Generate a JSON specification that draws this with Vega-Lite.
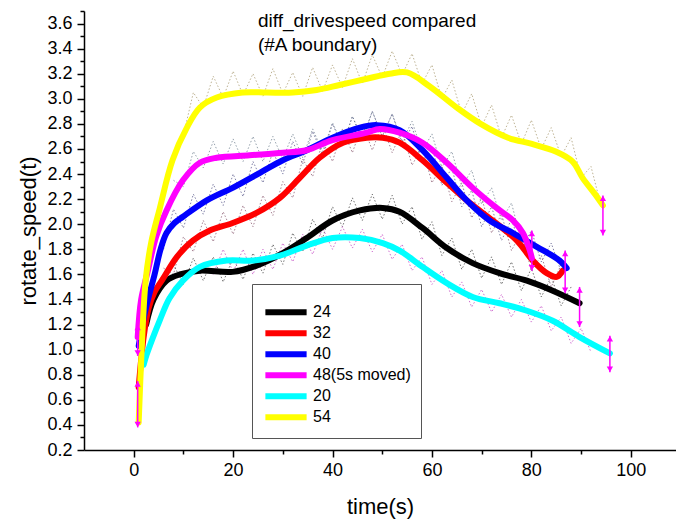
{
  "$schema": "https://vega.github.io/schema/vega-lite/v6.json",
  "width": 592,
  "height": 439,
  "autosize": {"type": "none"},
  "padding": {"left": 84, "top": 11, "right": 0, "bottom": 70},
  "background": "white",
  "config": {
    "font": "Liberation Sans",
    "view": {"stroke": null},
    "axis": {
      "grid": false,
      "domainColor": "#000000",
      "domainWidth": 1.5,
      "tickColor": "#000000",
      "tickWidth": 1.5,
      "labelColor": "#000000",
      "labelFont": "Liberation Sans",
      "labelFontSize": 18,
      "titleFont": "Liberation Sans",
      "titleFontSize": 22,
      "titleFontWeight": "normal",
      "titleColor": "#000000"
    }
  },
  "datasets": {
    "curves": [
      {"s": "24", "t": 2.5, "v": 1.2}, {"s": "24", "t": 4.0, "v": 1.4}, {"s": "24", "t": 6.6, "v": 1.55}, {"s": "24", "t": 9.3, "v": 1.6}, {"s": "24", "t": 13.3, "v": 1.63}, {"s": "24", "t": 19.9, "v": 1.62}, {"s": "24", "t": 24.7, "v": 1.67}, {"s": "24", "t": 30, "v": 1.77}, {"s": "24", "t": 34.8, "v": 1.89}, {"s": "24", "t": 40, "v": 2.03}, {"s": "24", "t": 45.5, "v": 2.11}, {"s": "24", "t": 50.1, "v": 2.13}, {"s": "24", "t": 53.5, "v": 2.1}, {"s": "24", "t": 58.1, "v": 1.97}, {"s": "24", "t": 63, "v": 1.81}, {"s": "24", "t": 68.2, "v": 1.69}, {"s": "24", "t": 73.6, "v": 1.61}, {"s": "24", "t": 79.1, "v": 1.55}, {"s": "24", "t": 84.3, "v": 1.47}, {"s": "24", "t": 89.7, "v": 1.37},
      {"s": "32", "t": 1.0, "v": 0.7}, {"s": "32", "t": 2.0, "v": 1.1}, {"s": "32", "t": 3.0, "v": 1.33}, {"s": "32", "t": 4.2, "v": 1.46}, {"s": "32", "t": 5.8, "v": 1.56}, {"s": "32", "t": 8.7, "v": 1.74}, {"s": "32", "t": 11.9, "v": 1.87}, {"s": "32", "t": 15.3, "v": 1.95}, {"s": "32", "t": 19.9, "v": 2.01}, {"s": "32", "t": 24.7, "v": 2.09}, {"s": "32", "t": 29.4, "v": 2.21}, {"s": "32", "t": 33.4, "v": 2.37}, {"s": "32", "t": 37.4, "v": 2.53}, {"s": "32", "t": 42.1, "v": 2.65}, {"s": "32", "t": 46.9, "v": 2.69}, {"s": "32", "t": 50.1, "v": 2.69}, {"s": "32", "t": 53.5, "v": 2.65}, {"s": "32", "t": 58.1, "v": 2.51}, {"s": "32", "t": 63, "v": 2.33}, {"s": "32", "t": 67.6, "v": 2.17}, {"s": "32", "t": 72.2, "v": 2.03}, {"s": "32", "t": 77.1, "v": 1.87}, {"s": "32", "t": 80.3, "v": 1.71}, {"s": "32", "t": 83.1, "v": 1.61}, {"s": "32", "t": 85.1, "v": 1.58}, {"s": "32", "t": 86.3, "v": 1.63},
      {"s": "40", "t": 1.0, "v": 1.03}, {"s": "40", "t": 2.0, "v": 1.25}, {"s": "40", "t": 3.0, "v": 1.42}, {"s": "40", "t": 4.2, "v": 1.6}, {"s": "40", "t": 5.4, "v": 1.8}, {"s": "40", "t": 6.6, "v": 1.93}, {"s": "40", "t": 8.2, "v": 2.01}, {"s": "40", "t": 9.9, "v": 2.06}, {"s": "40", "t": 14.7, "v": 2.19}, {"s": "40", "t": 19.9, "v": 2.29}, {"s": "40", "t": 25.4, "v": 2.41}, {"s": "40", "t": 30, "v": 2.51}, {"s": "40", "t": 34.8, "v": 2.59}, {"s": "40", "t": 40, "v": 2.69}, {"s": "40", "t": 45.5, "v": 2.77}, {"s": "40", "t": 48.9, "v": 2.79}, {"s": "40", "t": 53.5, "v": 2.75}, {"s": "40", "t": 58.1, "v": 2.59}, {"s": "40", "t": 63, "v": 2.37}, {"s": "40", "t": 67, "v": 2.19}, {"s": "40", "t": 71.6, "v": 2.03}, {"s": "40", "t": 76.3, "v": 1.93}, {"s": "40", "t": 81.1, "v": 1.82}, {"s": "40", "t": 85.7, "v": 1.71}, {"s": "40", "t": 87.1, "v": 1.65},
      {"s": "48(5s moved)", "t": 0.8, "v": 1.1}, {"s": "48(5s moved)", "t": 1.5, "v": 1.4}, {"s": "48(5s moved)", "t": 2.8, "v": 1.62}, {"s": "48(5s moved)", "t": 4.5, "v": 1.9}, {"s": "48(5s moved)", "t": 6.6, "v": 2.11}, {"s": "48(5s moved)", "t": 9.9, "v": 2.35}, {"s": "48(5s moved)", "t": 13.3, "v": 2.49}, {"s": "48(5s moved)", "t": 16.7, "v": 2.53}, {"s": "48(5s moved)", "t": 23.3, "v": 2.55}, {"s": "48(5s moved)", "t": 30, "v": 2.57}, {"s": "48(5s moved)", "t": 34.8, "v": 2.59}, {"s": "48(5s moved)", "t": 40, "v": 2.67}, {"s": "48(5s moved)", "t": 46.9, "v": 2.73}, {"s": "48(5s moved)", "t": 49.5, "v": 2.76}, {"s": "48(5s moved)", "t": 53.5, "v": 2.73}, {"s": "48(5s moved)", "t": 58.1, "v": 2.65}, {"s": "48(5s moved)", "t": 63, "v": 2.49}, {"s": "48(5s moved)", "t": 68.2, "v": 2.29}, {"s": "48(5s moved)", "t": 73, "v": 2.13}, {"s": "48(5s moved)", "t": 76.3, "v": 2.03}, {"s": "48(5s moved)", "t": 78.3, "v": 1.93}, {"s": "48(5s moved)", "t": 79.7, "v": 1.79}, {"s": "48(5s moved)", "t": 80.1, "v": 1.73},
      {"s": "20", "t": 2.0, "v": 0.88}, {"s": "20", "t": 2.6, "v": 0.96}, {"s": "20", "t": 3.8, "v": 1.09}, {"s": "20", "t": 5.2, "v": 1.23}, {"s": "20", "t": 7.2, "v": 1.41}, {"s": "20", "t": 9.9, "v": 1.55}, {"s": "20", "t": 13.3, "v": 1.66}, {"s": "20", "t": 18.7, "v": 1.71}, {"s": "20", "t": 23.9, "v": 1.71}, {"s": "20", "t": 29.4, "v": 1.75}, {"s": "20", "t": 34.8, "v": 1.83}, {"s": "20", "t": 40, "v": 1.89}, {"s": "20", "t": 45.5, "v": 1.89}, {"s": "20", "t": 50.1, "v": 1.85}, {"s": "20", "t": 53.5, "v": 1.79}, {"s": "20", "t": 58.1, "v": 1.66}, {"s": "20", "t": 63, "v": 1.53}, {"s": "20", "t": 68.2, "v": 1.42}, {"s": "20", "t": 73.6, "v": 1.37}, {"s": "20", "t": 79.1, "v": 1.31}, {"s": "20", "t": 84.3, "v": 1.23}, {"s": "20", "t": 89.7, "v": 1.1}, {"s": "20", "t": 95.8, "v": 0.97},
      {"s": "54", "t": 1.0, "v": 0.42}, {"s": "54", "t": 1.6, "v": 1.0}, {"s": "54", "t": 2.4, "v": 1.55}, {"s": "54", "t": 3.5, "v": 1.85}, {"s": "54", "t": 5.2, "v": 2.12}, {"s": "54", "t": 7.8, "v": 2.51}, {"s": "54", "t": 10.7, "v": 2.77}, {"s": "54", "t": 13.3, "v": 2.93}, {"s": "54", "t": 16.7, "v": 3.01}, {"s": "54", "t": 21.9, "v": 3.05}, {"s": "54", "t": 26.8, "v": 3.05}, {"s": "54", "t": 32, "v": 3.05}, {"s": "54", "t": 36.8, "v": 3.07}, {"s": "54", "t": 41.4, "v": 3.11}, {"s": "54", "t": 46.9, "v": 3.16}, {"s": "54", "t": 51.5, "v": 3.2}, {"s": "54", "t": 55, "v": 3.21}, {"s": "54", "t": 59.5, "v": 3.1}, {"s": "54", "t": 65, "v": 2.93}, {"s": "54", "t": 69.8, "v": 2.8}, {"s": "54", "t": 75.3, "v": 2.69}, {"s": "54", "t": 80.1, "v": 2.64}, {"s": "54", "t": 84.9, "v": 2.58}, {"s": "54", "t": 88.3, "v": 2.5}, {"s": "54", "t": 90.3, "v": 2.37}, {"s": "54", "t": 93, "v": 2.23}, {"s": "54", "t": 94.4, "v": 2.15}
    ],
    "noise": [
      {"n": "n54", "t": 10, "v": 2.71}, {"n": "n54", "t": 12, "v": 3.05}, {"n": "n54", "t": 14, "v": 2.93}, {"n": "n54", "t": 16, "v": 3.18}, {"n": "n54", "t": 18, "v": 3.01}, {"n": "n54", "t": 20, "v": 3.22}, {"n": "n54", "t": 22, "v": 3.03}, {"n": "n54", "t": 24, "v": 3.2}, {"n": "n54", "t": 26, "v": 3.02}, {"n": "n54", "t": 28, "v": 3.24}, {"n": "n54", "t": 30, "v": 3.04}, {"n": "n54", "t": 32, "v": 3.21}, {"n": "n54", "t": 34, "v": 3.02}, {"n": "n54", "t": 36, "v": 3.25}, {"n": "n54", "t": 38, "v": 3.06}, {"n": "n54", "t": 40, "v": 3.27}, {"n": "n54", "t": 42, "v": 3.09}, {"n": "n54", "t": 44, "v": 3.32}, {"n": "n54", "t": 46, "v": 3.12}, {"n": "n54", "t": 48, "v": 3.35}, {"n": "n54", "t": 50, "v": 3.17}, {"n": "n54", "t": 52, "v": 3.38}, {"n": "n54", "t": 54, "v": 3.19}, {"n": "n54", "t": 56, "v": 3.36}, {"n": "n54", "t": 58, "v": 3.12}, {"n": "n54", "t": 60, "v": 3.27}, {"n": "n54", "t": 62, "v": 3.0}, {"n": "n54", "t": 64, "v": 3.15}, {"n": "n54", "t": 66, "v": 2.88}, {"n": "n54", "t": 68, "v": 3.04}, {"n": "n54", "t": 70, "v": 2.78}, {"n": "n54", "t": 72, "v": 2.95}, {"n": "n54", "t": 74, "v": 2.69}, {"n": "n54", "t": 76, "v": 2.87}, {"n": "n54", "t": 78, "v": 2.64}, {"n": "n54", "t": 80, "v": 2.83}, {"n": "n54", "t": 82, "v": 2.6}, {"n": "n54", "t": 84, "v": 2.77}, {"n": "n54", "t": 86, "v": 2.54}, {"n": "n54", "t": 88, "v": 2.69}, {"n": "n54", "t": 90, "v": 2.37}, {"n": "n54", "t": 92, "v": 2.46}, {"n": "n54", "t": 94, "v": 2.15},
      {"n": "n40", "t": 6, "v": 1.8}, {"n": "n40", "t": 8, "v": 2.12}, {"n": "n40", "t": 10, "v": 1.97}, {"n": "n40", "t": 12, "v": 2.24}, {"n": "n40", "t": 14, "v": 2.08}, {"n": "n40", "t": 16, "v": 2.32}, {"n": "n40", "t": 18, "v": 2.15}, {"n": "n40", "t": 20, "v": 2.4}, {"n": "n40", "t": 22, "v": 2.22}, {"n": "n40", "t": 24, "v": 2.5}, {"n": "n40", "t": 26, "v": 2.33}, {"n": "n40", "t": 28, "v": 2.58}, {"n": "n40", "t": 30, "v": 2.4}, {"n": "n40", "t": 32, "v": 2.66}, {"n": "n40", "t": 34, "v": 2.48}, {"n": "n40", "t": 36, "v": 2.74}, {"n": "n40", "t": 38, "v": 2.55}, {"n": "n40", "t": 40, "v": 2.8}, {"n": "n40", "t": 42, "v": 2.62}, {"n": "n40", "t": 44, "v": 2.86}, {"n": "n40", "t": 46, "v": 2.68}, {"n": "n40", "t": 48, "v": 2.9}, {"n": "n40", "t": 50, "v": 2.7}, {"n": "n40", "t": 52, "v": 2.88}, {"n": "n40", "t": 54, "v": 2.64}, {"n": "n40", "t": 56, "v": 2.78}, {"n": "n40", "t": 58, "v": 2.48}, {"n": "n40", "t": 60, "v": 2.62}, {"n": "n40", "t": 62, "v": 2.31}, {"n": "n40", "t": 64, "v": 2.45}, {"n": "n40", "t": 66, "v": 2.14}, {"n": "n40", "t": 68, "v": 2.27}, {"n": "n40", "t": 70, "v": 1.98}, {"n": "n40", "t": 72, "v": 2.14}, {"n": "n40", "t": 74, "v": 1.87}, {"n": "n40", "t": 76, "v": 2.04}, {"n": "n40", "t": 78, "v": 1.8}, {"n": "n40", "t": 80, "v": 1.95}, {"n": "n40", "t": 82, "v": 1.7}, {"n": "n40", "t": 84, "v": 1.85}, {"n": "n40", "t": 86, "v": 1.62},
      {"n": "n32", "t": 6, "v": 1.65}, {"n": "n32", "t": 8, "v": 1.6}, {"n": "n32", "t": 10, "v": 1.9}, {"n": "n32", "t": 12, "v": 1.78}, {"n": "n32", "t": 14, "v": 2.03}, {"n": "n32", "t": 16, "v": 1.86}, {"n": "n32", "t": 18, "v": 2.1}, {"n": "n32", "t": 20, "v": 1.92}, {"n": "n32", "t": 22, "v": 2.15}, {"n": "n32", "t": 24, "v": 1.98}, {"n": "n32", "t": 26, "v": 2.23}, {"n": "n32", "t": 28, "v": 2.07}, {"n": "n32", "t": 30, "v": 2.34}, {"n": "n32", "t": 32, "v": 2.21}, {"n": "n32", "t": 34, "v": 2.52}, {"n": "n32", "t": 36, "v": 2.38}, {"n": "n32", "t": 38, "v": 2.66}, {"n": "n32", "t": 40, "v": 2.5}, {"n": "n32", "t": 42, "v": 2.76}, {"n": "n32", "t": 44, "v": 2.57}, {"n": "n32", "t": 46, "v": 2.8}, {"n": "n32", "t": 48, "v": 2.59}, {"n": "n32", "t": 50, "v": 2.8}, {"n": "n32", "t": 52, "v": 2.57}, {"n": "n32", "t": 54, "v": 2.75}, {"n": "n32", "t": 56, "v": 2.47}, {"n": "n32", "t": 58, "v": 2.62}, {"n": "n32", "t": 60, "v": 2.33}, {"n": "n32", "t": 62, "v": 2.47}, {"n": "n32", "t": 64, "v": 2.18}, {"n": "n32", "t": 66, "v": 2.33}, {"n": "n32", "t": 68, "v": 2.05}, {"n": "n32", "t": 70, "v": 2.21}, {"n": "n32", "t": 72, "v": 1.93}, {"n": "n32", "t": 74, "v": 2.08}, {"n": "n32", "t": 76, "v": 1.79}, {"n": "n32", "t": 78, "v": 1.94}, {"n": "n32", "t": 80, "v": 1.63}, {"n": "n32", "t": 82, "v": 1.75}, {"n": "n32", "t": 84, "v": 1.5}, {"n": "n32", "t": 86, "v": 1.68},
      {"n": "n48", "t": 8, "v": 2.35}, {"n": "n48", "t": 10, "v": 2.3}, {"n": "n48", "t": 12, "v": 2.58}, {"n": "n48", "t": 14, "v": 2.45}, {"n": "n48", "t": 16, "v": 2.66}, {"n": "n48", "t": 18, "v": 2.48}, {"n": "n48", "t": 20, "v": 2.68}, {"n": "n48", "t": 22, "v": 2.5}, {"n": "n48", "t": 24, "v": 2.7}, {"n": "n48", "t": 26, "v": 2.5}, {"n": "n48", "t": 28, "v": 2.7}, {"n": "n48", "t": 30, "v": 2.52}, {"n": "n48", "t": 32, "v": 2.72}, {"n": "n48", "t": 34, "v": 2.53}, {"n": "n48", "t": 36, "v": 2.76}, {"n": "n48", "t": 38, "v": 2.58}, {"n": "n48", "t": 40, "v": 2.81}, {"n": "n48", "t": 42, "v": 2.63}, {"n": "n48", "t": 44, "v": 2.86}, {"n": "n48", "t": 46, "v": 2.67}, {"n": "n48", "t": 48, "v": 2.9}, {"n": "n48", "t": 50, "v": 2.7}, {"n": "n48", "t": 52, "v": 2.88}, {"n": "n48", "t": 54, "v": 2.66}, {"n": "n48", "t": 56, "v": 2.82}, {"n": "n48", "t": 58, "v": 2.58}, {"n": "n48", "t": 60, "v": 2.72}, {"n": "n48", "t": 62, "v": 2.45}, {"n": "n48", "t": 64, "v": 2.58}, {"n": "n48", "t": 66, "v": 2.3}, {"n": "n48", "t": 68, "v": 2.43}, {"n": "n48", "t": 70, "v": 2.16}, {"n": "n48", "t": 72, "v": 2.29}, {"n": "n48", "t": 74, "v": 2.03}, {"n": "n48", "t": 76, "v": 2.17}, {"n": "n48", "t": 78, "v": 1.86}, {"n": "n48", "t": 80, "v": 1.8},
      {"n": "n24", "t": 8, "v": 1.68}, {"n": "n24", "t": 10, "v": 1.52}, {"n": "n24", "t": 12, "v": 1.73}, {"n": "n24", "t": 14, "v": 1.55}, {"n": "n24", "t": 16, "v": 1.74}, {"n": "n24", "t": 18, "v": 1.54}, {"n": "n24", "t": 20, "v": 1.73}, {"n": "n24", "t": 22, "v": 1.56}, {"n": "n24", "t": 24, "v": 1.77}, {"n": "n24", "t": 26, "v": 1.61}, {"n": "n24", "t": 28, "v": 1.84}, {"n": "n24", "t": 30, "v": 1.68}, {"n": "n24", "t": 32, "v": 1.93}, {"n": "n24", "t": 34, "v": 1.78}, {"n": "n24", "t": 36, "v": 2.04}, {"n": "n24", "t": 38, "v": 1.89}, {"n": "n24", "t": 40, "v": 2.14}, {"n": "n24", "t": 42, "v": 1.98}, {"n": "n24", "t": 44, "v": 2.21}, {"n": "n24", "t": 46, "v": 2.03}, {"n": "n24", "t": 48, "v": 2.24}, {"n": "n24", "t": 50, "v": 2.04}, {"n": "n24", "t": 52, "v": 2.23}, {"n": "n24", "t": 54, "v": 2.0}, {"n": "n24", "t": 56, "v": 2.14}, {"n": "n24", "t": 58, "v": 1.88}, {"n": "n24", "t": 60, "v": 2.02}, {"n": "n24", "t": 62, "v": 1.75}, {"n": "n24", "t": 64, "v": 1.89}, {"n": "n24", "t": 66, "v": 1.64}, {"n": "n24", "t": 68, "v": 1.8}, {"n": "n24", "t": 70, "v": 1.57}, {"n": "n24", "t": 72, "v": 1.74}, {"n": "n24", "t": 74, "v": 1.52}, {"n": "n24", "t": 76, "v": 1.7}, {"n": "n24", "t": 78, "v": 1.47}, {"n": "n24", "t": 80, "v": 1.65}, {"n": "n24", "t": 82, "v": 1.42}, {"n": "n24", "t": 84, "v": 1.58}, {"n": "n24", "t": 86, "v": 1.35}, {"n": "n24", "t": 88, "v": 1.5},
      {"n": "n20", "t": 16, "v": 1.6}, {"n": "n20", "t": 18, "v": 1.8}, {"n": "n20", "t": 20, "v": 1.62}, {"n": "n20", "t": 22, "v": 1.8}, {"n": "n20", "t": 24, "v": 1.6}, {"n": "n20", "t": 26, "v": 1.8}, {"n": "n20", "t": 28, "v": 1.64}, {"n": "n20", "t": 30, "v": 1.85}, {"n": "n20", "t": 32, "v": 1.7}, {"n": "n20", "t": 34, "v": 1.92}, {"n": "n20", "t": 36, "v": 1.76}, {"n": "n20", "t": 38, "v": 1.97}, {"n": "n20", "t": 40, "v": 1.8}, {"n": "n20", "t": 42, "v": 1.98}, {"n": "n20", "t": 44, "v": 1.81}, {"n": "n20", "t": 46, "v": 1.96}, {"n": "n20", "t": 48, "v": 1.78}, {"n": "n20", "t": 50, "v": 1.92}, {"n": "n20", "t": 52, "v": 1.72}, {"n": "n20", "t": 54, "v": 1.84}, {"n": "n20", "t": 56, "v": 1.63}, {"n": "n20", "t": 58, "v": 1.74}, {"n": "n20", "t": 60, "v": 1.52}, {"n": "n20", "t": 62, "v": 1.63}, {"n": "n20", "t": 64, "v": 1.42}, {"n": "n20", "t": 66, "v": 1.54}, {"n": "n20", "t": 68, "v": 1.34}, {"n": "n20", "t": 70, "v": 1.48}, {"n": "n20", "t": 72, "v": 1.3}, {"n": "n20", "t": 74, "v": 1.44}, {"n": "n20", "t": 76, "v": 1.26}, {"n": "n20", "t": 78, "v": 1.4}, {"n": "n20", "t": 80, "v": 1.22}, {"n": "n20", "t": 82, "v": 1.35}, {"n": "n20", "t": 84, "v": 1.15}, {"n": "n20", "t": 86, "v": 1.26}, {"n": "n20", "t": 88, "v": 1.05}, {"n": "n20", "t": 90, "v": 1.17}, {"n": "n20", "t": 92, "v": 0.98}
    ],
    "arrows": [
      {"t": 80.1, "top": 1.95, "bot": 1.63},
      {"t": 86.8, "top": 1.79, "bot": 1.45},
      {"t": 89.7, "top": 1.5, "bot": 1.18},
      {"t": 94.4, "top": 2.23, "bot": 1.91},
      {"t": 95.8, "top": 1.11, "bot": 0.82},
      {"t": 0.8, "top": 1.2, "bot": 0.95},
      {"t": 0.8, "top": 0.75, "bot": 0.38}
    ],
    "labels": [
      {"t": 25, "v": 3.575, "txt": "diff_drivespeed compared"},
      {"t": 25, "v": 3.383, "txt": "(#A boundary)"}
    ]
  },
  "layer": [
    {
      "data": {"name": "noise"},
      "mark": {"type": "line", "strokeWidth": 1, "strokeDash": [1.5, 2], "opacity": 0.75, "clip": true},
      "encoding": {
        "x": {"field": "t", "type": "quantitative", "scale": {"domain": [-10, 109.1], "nice": false, "zero": false}, "axis": null},
        "y": {"field": "v", "type": "quantitative", "scale": {"domain": [0.2, 3.7], "nice": false, "zero": false}, "axis": null},
        "stroke": {"field": "n", "type": "nominal", "legend": null,
          "scale": {"domain": ["n54", "n40", "n32", "n48", "n24", "n20"], "range": ["#a89a70", "#555588", "#8a5a70", "#708090", "#444444", "#c040c0"]}}
      }
    },
    {
      "data": {"name": "curves"},
      "mark": {"type": "line", "interpolate": "catmull-rom", "strokeWidth": 6, "strokeCap": "round", "clip": true},
      "encoding": {
        "x": {"field": "t", "type": "quantitative", "scale": {"domain": [-10, 109.1], "nice": false, "zero": false},
          "axis": {"title": "time(s)", "values": [0, 20, 40, 60, 80, 100], "tickSize": 7, "labelPadding": 4, "titlePadding": 17, "labelFlush": false}},
        "y": {"field": "v", "type": "quantitative", "scale": {"domain": [0.2, 3.7], "nice": false, "zero": false},
          "axis": {"title": "rotate_speed(t)", "values": [0.2, 0.4, 0.6, 0.8, 1.0, 1.2, 1.4, 1.6, 1.8, 2.0, 2.2, 2.4, 2.6, 2.8, 3.0, 3.2, 3.4, 3.6], "format": ".1f", "tickSize": 7, "labelPadding": 5, "titlePadding": 6, "labelFlush": false}},
        "color": {"field": "s", "type": "nominal",
          "scale": {"domain": ["24", "32", "40", "48(5s moved)", "20", "54"], "range": ["#000000", "#ff0000", "#0000ff", "#ff00ff", "#00ffff", "#ffff00"]},
          "legend": {"title": " ", "titleFontSize": 6, "titlePadding": 2, "orient": "none", "legendX": 168, "legendY": 273,
            "symbolType": "stroke", "symbolSize": 1700, "symbolStrokeWidth": 6, "labelFontSize": 16, "labelColor": "#000000", "labelOffset": 3,
            "clipHeight": 20.7, "rowPadding": 0, "padding": 10, "strokeColor": "#555555", "fillColor": "white"}},
        "order": {"field": "t", "type": "quantitative"}
      }
    },
    {
      "data": {"name": "arrows"},
      "mark": {"type": "rule", "color": "#ff00ff", "strokeWidth": 1.5},
      "encoding": {
        "x": {"field": "t", "type": "quantitative", "scale": {"domain": [-10, 109.1], "nice": false, "zero": false},
          "axis": {"title": null, "values": [10, 30, 50, 70, 90, 110], "labels": false, "tickSize": 4, "domain": false, "orient": "bottom"}},
        "y": {"field": "top", "type": "quantitative", "scale": {"domain": [0.2, 3.7], "nice": false, "zero": false},
          "axis": {"title": null, "values": [0.3, 0.5, 0.7, 0.9, 1.1, 1.3, 1.5, 1.7, 1.9, 2.1, 2.3, 2.5, 2.7, 2.9, 3.1, 3.3, 3.5, 3.7], "labels": false, "tickSize": 4, "domain": false, "orient": "left"}},
        "y2": {"field": "bot"}
      }
    },
    {
      "data": {"name": "arrows"},
      "mark": {"type": "point", "shape": "triangle-up", "filled": true, "color": "#ff00ff", "size": 40, "opacity": 1, "yOffset": 3},
      "encoding": {
        "x": {"field": "t", "type": "quantitative", "axis": null},
        "y": {"field": "top", "type": "quantitative", "axis": null}
      }
    },
    {
      "data": {"name": "arrows"},
      "mark": {"type": "point", "shape": "triangle-down", "filled": true, "color": "#ff00ff", "size": 40, "opacity": 1, "yOffset": -3},
      "encoding": {
        "x": {"field": "t", "type": "quantitative", "axis": null},
        "y": {"field": "bot", "type": "quantitative", "axis": null}
      }
    },
    {
      "data": {"name": "labels"},
      "mark": {"type": "text", "align": "left", "baseline": "alphabetic", "fontSize": 19, "font": "Liberation Sans", "color": "#000000"},
      "encoding": {
        "x": {"field": "t", "type": "quantitative", "axis": null},
        "y": {"field": "v", "type": "quantitative", "axis": null},
        "text": {"field": "txt"}
      }
    }
  ],
  "resolve": {"axis": {"x": "independent", "y": "independent"}, "scale": {"color": "independent", "stroke": "independent"}}
}
